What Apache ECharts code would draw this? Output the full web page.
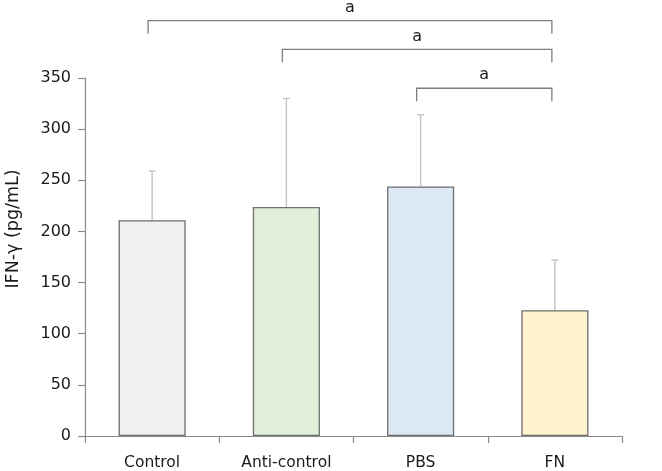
<!DOCTYPE html>
<html>
<head>
<meta charset="utf-8">
<script src="https://cdn.jsdelivr.net/npm/echarts@6/dist/echarts.min.js"></script>
<style>html,body{margin:0;padding:0;background:#fff}#c{width:662px;height:471px}</style>
</head>
<body>
<div id="c"></div>
<script>
var categories = ['Control', 'Anti-control', 'PBS', 'FN'];
var means = [211, 224, 244, 123];
var upperErr = [259, 330, 314, 172];
var barColors = ['#f0f0f0', '#e2efda', '#dde8f5', '#fff2cc'];
var yTicks = [0, 50, 100, 150, 200, 250, 300, 350];
// comparisons: [fromIndex, toIndex, bracket level (y units), label]
var comparisons = [[0, 3, 406, 'a'], [1, 3, 378, 'a'], [2, 3, 340, 'a']];

var FONT = 'DejaVu Sans';
var chart = echarts.init(document.getElementById('c'), null, {renderer: 'canvas'});

var barData = means.map(function (v, i) {
  return {value: v, itemStyle: {color: barColors[i], borderColor: '#6e6e6e', borderWidth: 1.3}};
});
var errData = means.map(function (v, i) { return [i, v, upperErr[i]]; });
var cmpData = comparisons.map(function (c) { return [c[0], c[1], c[2], c[3]]; });

chart.setOption({
  animation: false,
  grid: {left: 85, right: 40, top: 78, bottom: 34},
  xAxis: {
    type: 'category',
    data: categories,
    axisLine: {lineStyle: {color: '#8a8a8a', width: 1.2}},
    axisTick: {show: true, length: 7, lineStyle: {color: '#8a8a8a', width: 1.2}},
    axisLabel: {color: '#1a1a1a', fontFamily: FONT, fontSize: 15.5, margin: 19}
  },
  yAxis: {
    type: 'value',
    min: yTicks[0], max: yTicks[yTicks.length - 1], interval: 50,
    axisLine: {show: true, lineStyle: {color: '#8a8a8a', width: 1.2}},
    axisTick: {show: true, length: 7, lineStyle: {color: '#8a8a8a', width: 1.2}},
    splitLine: {show: false},
    axisLabel: {color: '#1a1a1a', fontFamily: FONT, fontSize: 16, margin: 14}
  },
  graphic: [{
    type: 'text',
    x: 13, y: 229,
    rotation: Math.PI / 2,
    style: {text: 'IFN-γ (pg/mL)', fill: '#1a1a1a', font: '17.5px "DejaVu Sans"', align: 'center', verticalAlign: 'middle'}
  }],
  series: [
    {
      type: 'bar',
      data: barData,
      barWidth: '50%',
      z: 2
    },
    {
      type: 'custom',
      data: errData,
      z: 1,
      renderItem: function (params, api) {
        var i = api.value(0);
        var top = api.coord([i, api.value(2)]);
        var bot = api.coord([i, api.value(1)]);
        var style = {stroke: '#c3c3c3', lineWidth: 1.4};
        return {
          type: 'group',
          children: [
            {type: 'line', shape: {x1: top[0], y1: top[1], x2: bot[0], y2: bot[1]}, style: style},
            {type: 'line', shape: {x1: top[0] - 3.5, y1: top[1], x2: top[0] + 3.5, y2: top[1]}, style: style}
          ]
        };
      }
    },
    {
      type: 'custom',
      data: cmpData,
      clip: false,
      z: 3,
      renderItem: function (params, api) {
        var a = api.coord([api.value(0), api.value(2)]);
        var b = api.coord([api.value(1), api.value(2)]);
        var x1 = a[0] - 4, x2 = b[0] - 3, y = a[1];
        var style = {stroke: '#7f7f7f', lineWidth: 1.3, fill: null};
        return {
          type: 'group',
          children: [
            {type: 'polyline', shape: {points: [[x1, y + 13], [x1, y], [x2, y], [x2, y + 13]]}, style: style},
            {type: 'text', x: (x1 + x2) / 2, y: y - 13,
             style: {text: comparisons[params.dataIndex][3], fill: '#1a1a1a', font: '16px "DejaVu Sans"', align: 'center', verticalAlign: 'middle'}}
          ]
        };
      }
    }
  ]
});
</script>
</body>
</html>
